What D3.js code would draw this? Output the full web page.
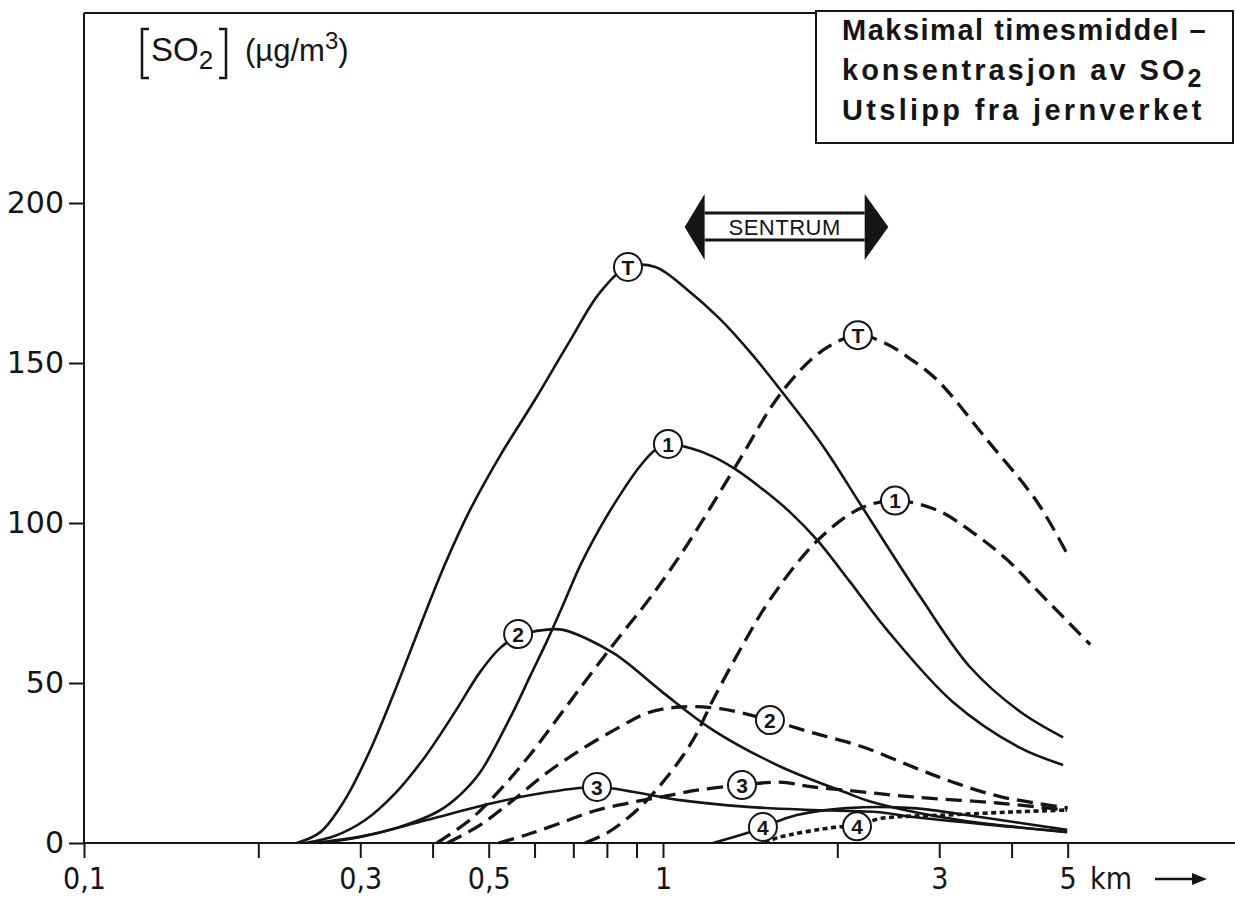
<!DOCTYPE html>
<html>
<head>
<meta charset="utf-8">
<script src="https://cdn.jsdelivr.net/npm/d3@7"></script>
<style>
  body { margin: 0; background: #fff; }
  svg { display: block; }
</style>
</head>
<body>
<svg id="chart" width="1235" height="899"></svg>
<script>
// ---- data (distance in km, concentration in ug/m3) ----
const xTicks = [0.1, 0.2, 0.3, 0.4, 0.5, 0.6, 0.7, 0.8, 0.9, 1, 2, 3, 4, 5];
const xLabelTicks = [0.1, 0.3, 0.5, 1, 3, 5];
const xLabelText = ['0,1', '0,3', '0,5', '1', '3', '5'];
const yTicks = [0, 50, 100, 150, 200];

// solid curves
const solidT = [[0.233,0],[0.256,3.4],[0.282,13.4],[0.312,29],[0.345,48],[0.381,68],[0.42,87],[0.464,104],[0.523,121],[0.601,138.5],[0.691,157],[0.778,172],[0.87,180],[0.97,180],[1.10,173],[1.25,164],[1.42,153],[1.605,141],[1.89,124],[2.19,106],[2.78,77],[3.39,55],[4.14,41],[4.91,33]];
const solid1 = [[0.249,0],[0.30,2],[0.351,5],[0.41,10],[0.446,15],[0.483,22],[0.551,41],[0.589,52],[0.63,63],[0.672,74.4],[0.719,86.6],[0.778,98.4],[0.843,108.8],[0.913,117.8],[0.969,122.8],[1.02,124.7],[1.113,123.4],[1.215,120.9],[1.331,116.9],[1.471,111.2],[1.657,103.4],[1.845,94.7],[2.104,81.6],[2.437,66.6],[3.17,44],[4.14,29.7],[4.91,24.4]];
const solid2 = [[0.241,0],[0.271,2.2],[0.306,7.2],[0.345,15.6],[0.388,26.9],[0.437,40.9],[0.483,53.4],[0.523,60.9],[0.562,64.7],[0.625,66.6],[0.672,66.6],[0.82,59.4],[1.0,47],[1.22,35.3],[1.59,24],[2.08,15.6],[2.28,13],[3.17,7.5],[4.95,3.5]];
const solid3 = [[0.256,0],[0.30,1.9],[0.391,7.2],[0.509,12.5],[0.62,15.6],[0.769,17.5],[0.9,15.8],[1.07,13.4],[1.40,11.3],[1.82,10.3],[2.37,9.6],[2.70,8.1],[4.02,5],[4.99,3.4]];
const solid4 = [[1.22,0],[1.397,3.1],[1.488,5],[1.703,8.75],[2.079,10.9],[2.70,10.9],[3.53,8.1],[4.99,4.1]];

// dashed curves
const dashedT = [[0.407,0],[0.464,7.2],[0.523,16.6],[0.589,27.5],[0.664,40],[0.748,52.5],[0.843,64.7],[0.95,76.6],[1.10,93.1],[1.342,118.4],[1.605,141],[1.889,154],[2.17,158.7],[2.40,156.5],[2.64,152],[2.974,144.7],[3.627,126],[4.43,106.5],[5.0,90]];
const dashed1 = [[0.733,0],[0.80,3.1],[0.902,10.3],[1.016,20.6],[1.127,32.2],[1.22,44.7],[1.358,60.3],[1.53,76],[1.845,94.4],[2.189,104.5],[2.516,107],[2.974,104],[3.43,97],[3.93,88.5],[4.48,78],[5.47,62]];
const dashed2 = [[0.424,0],[0.483,5.6],[0.551,13.4],[0.63,21.9],[0.719,29],[0.843,36.3],[0.938,40.6],[1.07,42.5],[1.254,42],[1.53,38.4],[1.816,34.4],[2.215,30],[2.70,23.8],[3.17,19],[3.82,14.5],[5.0,11]];
const dashed3 = [[0.52,0],[0.58,2.5],[0.66,6],[0.76,10],[0.90,13],[1.0,14.5],[1.145,16.5],[1.369,18.1],[1.59,19],[1.82,17.5],[2.2,16],[2.7,14.4],[3.78,12.5],[4.99,10.3]];
const dotted4 = [[1.50,0],[1.573,1.6],[1.998,5],[2.163,5.3],[2.37,7.6],[3.094,8.75],[4.02,9.7],[4.99,10.3]];

// circled curve labels
const markerText = ['T', '1', '2', '3', '4', 'T', '1', '2', '3', '4'];
const markerKm = [0.87, 1.02, 0.562, 0.769, 1.488, 2.17, 2.516, 1.53, 1.369, 2.163];
const markerVal = [180, 124.7, 65.3, 17.5, 5, 158.7, 107, 38.4, 18.1, 5.2];

// city centre span (km) and level
const sentrumKm = [1.09, 1.18, 2.23, 2.45];
const sentrumVal = 192.5;

// ---- drawing ----
const svg = d3.select('#chart');
const ink = '#151515';

const x = d3.scaleLog().domain([0.1, 5]).range([84, 1067.7]);
const y = d3.scaleLinear().domain([0, 200]).range([843, 203]);

// frame lines
svg.append('line').attr('x1', 84).attr('x2', 1235).attr('y1', y(0)).attr('y2', y(0))
  .attr('stroke', ink).attr('stroke-width', 2);
svg.append('line').attr('x1', 84).attr('x2', 84).attr('y1', y(0)).attr('y2', 13)
  .attr('stroke', ink).attr('stroke-width', 2);
svg.append('line').attr('x1', 84).attr('x2', 816).attr('y1', 13).attr('y2', 13)
  .attr('stroke', ink).attr('stroke-width', 2);

// x axis
const gx = svg.append('g').attr('transform', 'translate(0,' + y(0) + ')')
  .call(d3.axisBottom(x).tickValues(xTicks).tickSize(15).tickPadding(10)
    .tickFormat(function(d) {
      const i = xLabelTicks.indexOf(d);
      return i >= 0 ? xLabelText[i] : '';
    }));
gx.select('.domain').remove();
gx.selectAll('line').attr('stroke', ink).attr('stroke-width', 2);
gx.selectAll('text').attr('fill', ink)
  .style('font-family', '"Liberation Sans Narrow", "DejaVu Sans Condensed", sans-serif')
  .style('font-size', '30px');

svg.append('text').attr('x', 1090).attr('y', 889).attr('fill', ink)
  .style('font-family', '"Liberation Sans Narrow", "DejaVu Sans Condensed", sans-serif')
  .style('font-size', '30px').text('km');
svg.append('line').attr('x1', 1155).attr('x2', 1195).attr('y1', 879).attr('y2', 879)
  .attr('stroke', ink).attr('stroke-width', 2.5);
svg.append('path').attr('d', 'M1207,879 L1192,873 L1192,885 Z').attr('fill', ink);

// y axis
const gy = svg.append('g').attr('transform', 'translate(84,0)')
  .call(d3.axisLeft(y).tickValues(yTicks).tickSize(15).tickPadding(5));
gy.select('.domain').remove();
gy.selectAll('line').attr('stroke', ink).attr('stroke-width', 2);
gy.selectAll('text').attr('fill', ink)
  .style('font-family', '"DejaVu Sans", sans-serif')
  .style('font-size', '30px');

// y unit label: [SO2] (ug/m3)
svg.append('path')
  .attr('d', 'M149,29 L142,29 L142,78 L149,78 M219,29 L226,29 L226,78 L219,78')
  .attr('fill', 'none').attr('stroke', ink).attr('stroke-width', 2.5);
const unit = svg.append('text').attr('x', 151).attr('y', 61).attr('fill', ink)
  .style('font-family', '"Liberation Sans", Arial, sans-serif').style('font-size', '33px');
unit.append('tspan').text('SO');
unit.append('tspan').attr('dy', 8).style('font-size', '26px').text('2');
const unit2 = svg.append('text').attr('x', 245).attr('y', 61).attr('fill', ink)
  .style('font-family', '"Liberation Sans", Arial, sans-serif').style('font-size', '31px');
unit2.append('tspan').text('(\u00b5g/m');
unit2.append('tspan').attr('dy', -12).style('font-size', '24px').text('3');
unit2.append('tspan').attr('dy', 12).text(')');

// title box
svg.append('rect').attr('x', 816).attr('y', 11).attr('width', 417).attr('height', 132)
  .attr('fill', '#fff').attr('stroke', ink).attr('stroke-width', 2);
const titleFont = '"Liberation Sans", Arial, sans-serif';
const tl = [
  { y: 40, t: 'Maksimal timesmiddel \u2013', ls: 1.5 },
  { y: 80, t: 'konsentrasjon av SO', ls: 3.0 },
  { y: 120, t: 'Utslipp fra jernverket', ls: 3.3 }
];
tl.forEach(function(l, i) {
  const t = svg.append('text').attr('x', 842).attr('y', l.y).attr('fill', ink)
    .style('font-family', titleFont).style('font-size', '29px')
    .style('font-weight', 'bold').style('letter-spacing', l.ls + 'px');
  t.append('tspan').text(l.t);
  if (i === 1) t.append('tspan').attr('dy', 7).style('font-size', '25px').text('2');
});

// SENTRUM arrow
const sy = y(sentrumVal);
const sx = sentrumKm.map(function(d) { return x(d); });
svg.append('path')
  .attr('d', 'M' + sx[0] + ',' + sy + ' L' + sx[1] + ',' + (sy - 33) + ' L' + sx[1] + ',' + (sy + 33) + ' Z')
  .attr('fill', ink);
svg.append('path')
  .attr('d', 'M' + sx[3] + ',' + sy + ' L' + sx[2] + ',' + (sy - 33) + ' L' + sx[2] + ',' + (sy + 33) + ' Z')
  .attr('fill', ink);
[sy - 14, sy + 13].forEach(function(yy) {
  svg.append('line').attr('x1', sx[1]).attr('x2', sx[2]).attr('y1', yy).attr('y2', yy)
    .attr('stroke', ink).attr('stroke-width', 3);
});
svg.append('text').attr('x', (sx[1] + sx[2]) / 2).attr('y', sy + 8)
  .attr('text-anchor', 'middle').attr('fill', ink)
  .style('font-family', '"Liberation Sans", Arial, sans-serif').style('font-size', '22px')
  .style('letter-spacing', '0.5px').text('SENTRUM');

// curves
const line = d3.line()
  .x(function(d) { return x(d[0]); })
  .y(function(d) { return y(d[1]); })
  .curve(d3.curveCatmullRom.alpha(0.5));

const curves = [
  { data: solidT, dash: null, w: 2.6 },
  { data: solid1, dash: null, w: 2.6 },
  { data: solid2, dash: null, w: 2.6 },
  { data: solid3, dash: null, w: 2.6 },
  { data: solid4, dash: null, w: 2.6 },
  { data: dashedT, dash: '16,8', w: 3.3 },
  { data: dashed1, dash: '16,8', w: 3.3 },
  { data: dashed2, dash: '16,8', w: 3.3 },
  { data: dashed3, dash: '16,8', w: 3.3 },
  { data: dotted4, dash: '5,3.5', w: 3.6 }
];

svg.append('g').selectAll('path')
  .data(curves)
  .enter().append('path')
    .attr('d', function(d) { return line(d.data); })
    .attr('fill', 'none')
    .attr('stroke', ink)
    .attr('stroke-width', function(d) { return d.w; })
    .attr('stroke-dasharray', function(d) { return d.dash; })
    .attr('stroke-linecap', 'butt');

// circled labels
const mk = svg.append('g').selectAll('g')
  .data(markerText.map(function(t, i) { return { t: t, km: markerKm[i], v: markerVal[i] }; }))
  .enter().append('g')
    .attr('transform', function(d) { return 'translate(' + x(d.km) + ',' + y(d.v) + ')'; });
mk.append('circle').attr('r', 14).attr('fill', '#fff').attr('stroke', ink).attr('stroke-width', 2);
mk.append('text').attr('text-anchor', 'middle').attr('dy', '0.36em').attr('fill', ink)
  .style('font-family', '"Liberation Sans", Arial, sans-serif').style('font-size', '21px')
  .style('font-weight', 'bold')
  .text(function(d) { return d.t; });
</script>
</body>
</html>
